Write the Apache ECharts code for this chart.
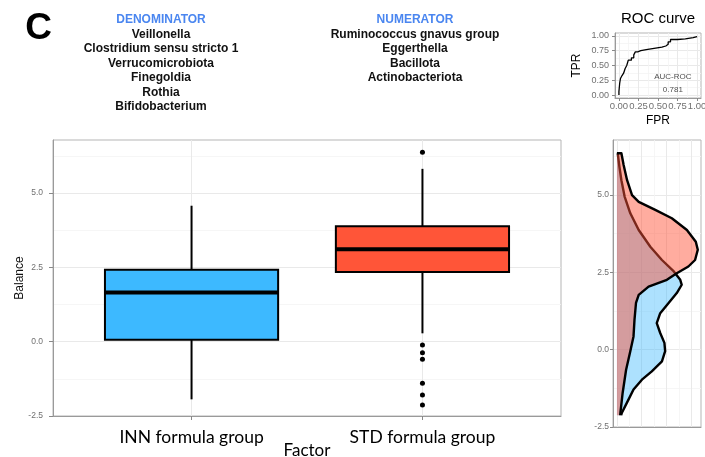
<!DOCTYPE html>
<html><head><meta charset="utf-8">
<script src="https://cdn.jsdelivr.net/npm/echarts@6/dist/echarts.min.js"></script>
<style>html,body{margin:0;padding:0;background:#fff}#c{width:705px;height:457px}</style>
</head><body><div id="c"></div>
<script>
// ---------------- data ----------------
const categories = ['INN formula group', 'STD formula group'];
// [min whisker, Q1, median, Q3, max whisker]
const innBox = [-1.94, 0.06, 1.65, 2.42, 4.57];
const stdBox = [0.28, 2.34, 3.11, 3.88, 5.81];
const stdOutliers = [6.37, -0.11, -0.37, -0.59, -1.40, -1.79, -2.13];
const balanceTicks = [-2.5, 0, 2.5, 5];
const balanceMinor = [-1.25, 1.25, 3.75, 6.25];

const denominatorTitle = 'DENOMINATOR';
const denominatorTaxa = ['Veillonella', 'Clostridium sensu stricto 1', 'Verrucomicrobiota', 'Finegoldia', 'Rothia', 'Bifidobacterium'];
const numeratorTitle = 'NUMERATOR';
const numeratorTaxa = ['Ruminococcus gnavus group', 'Eggerthella', 'Bacillota', 'Actinobacteriota'];

// density (Balance value, density) – INN group
const innDensBalance = [6.35, 6.29, 5.91, 5.48, 4.95, 4.41, 3.87, 3.33, 2.90, 2.53, 2.26, 2.10, 1.83, 1.51, 1.18, 0.86, 0.54, 0.22, -0.05, -0.38, -0.70, -0.97, -1.29, -1.72, -2.04, -2.12];
const innDensity     = [0.003, 0.004, 0.010, 0.018, 0.031, 0.054, 0.088, 0.135, 0.182, 0.230, 0.256, 0.262, 0.242, 0.209, 0.175, 0.161, 0.175, 0.192, 0.195, 0.182, 0.141, 0.101, 0.067, 0.040, 0.020, 0.017];
// density – STD group
const stdDensBalance = [6.35, 5.97, 5.48, 5.00, 4.78, 4.52, 4.25, 3.87, 3.49, 3.23, 2.90, 2.69, 2.47, 2.26, 2.04, 1.77, 1.51, 0.97, 0.43, -0.05, -0.65, -1.40, -2.04, -2.12];
const stdDensity     = [0.018, 0.027, 0.041, 0.061, 0.088, 0.155, 0.222, 0.283, 0.319, 0.327, 0.316, 0.289, 0.242, 0.202, 0.128, 0.088, 0.077, 0.071, 0.067, 0.054, 0.037, 0.023, 0.014, 0.013];
const densityMajor = [0, 0.1, 0.2, 0.3];
const densityMinor = [0.05, 0.15, 0.25];

// ROC curve
const rocFPR = [0, 0, 0.01, 0.01, 0.02, 0.02, 0.04, 0.04, 0.06, 0.06, 0.08, 0.08, 0.10, 0.10, 0.12, 0.12, 0.16, 0.16, 0.19, 0.19, 0.21, 0.21, 0.24, 0.24, 0.28, 0.28, 0.35, 0.35, 0.45, 0.45, 0.55, 0.55, 0.60, 0.60, 0.63, 0.63, 0.66, 0.66, 0.75, 0.75, 0.85, 0.85, 0.95, 0.95, 1.00, 1.00];
const rocTPR = [0, 0.06, 0.06, 0.20, 0.20, 0.28, 0.28, 0.33, 0.33, 0.37, 0.37, 0.45, 0.45, 0.50, 0.50, 0.59, 0.59, 0.63, 0.63, 0.68, 0.68, 0.73, 0.73, 0.75, 0.75, 0.77, 0.77, 0.79, 0.79, 0.81, 0.81, 0.83, 0.83, 0.86, 0.86, 0.90, 0.90, 0.94, 0.94, 0.95, 0.95, 0.97, 0.97, 0.99, 0.99, 1.00];
const rocTicks = [0, 0.25, 0.5, 0.75, 1];
const rocMinor = [0.125, 0.375, 0.625, 0.875];
const aucLabel = 'AUC-ROC';
const aucValue = '0.781';

// ---------------- styles ----------------
const BLUE = '#3DB9FF', RED = '#FF5538';
const GRID_MAJOR = '#e9e9e9', GRID_MINOR = '#f4f4f4';
const TICK_COLOR = '#707070';
const SANS = '"Liberation Sans", Arial, sans-serif';
const CAT_FONT = 'Lato, "Open Sans", sans-serif';

const chart = echarts.init(document.getElementById('c'));

function minorAxis(gridIndex, min, max, values, isX) {
  return {
    type: 'value', gridIndex, min, max, position: isX ? 'bottom' : 'left',
    axisLine: { show: false, onZero: false }, axisLabel: { show: false },
    axisTick: { show: false, customValues: values },
    splitLine: { show: true, lineStyle: { color: GRID_MINOR, width: 0.8 } }
  };
}

const boxData = [[1].concat(innBox), [2].concat(stdBox)];
const boxColors = [BLUE, RED];

function boxRender(params, api) {
  const x = api.value(0);
  const hw = 0.375;
  const mn = api.value(1), q1 = api.value(2), md = api.value(3), q3 = api.value(4), mx = api.value(5);
  const pTop = api.coord([x, mx]), pQ3 = api.coord([x, q3]), pQ1 = api.coord([x, q1]), pBot = api.coord([x, mn]);
  const pL = api.coord([x - hw, q3]), pR = api.coord([x + hw, q1]);
  const mL = api.coord([x - hw, md]), mR = api.coord([x + hw, md]);
  return {
    type: 'group', children: [
      { type: 'line', shape: { x1: pTop[0], y1: pTop[1], x2: pQ3[0], y2: pQ3[1] }, style: { stroke: '#000', lineWidth: 2 } },
      { type: 'line', shape: { x1: pQ1[0], y1: pQ1[1], x2: pBot[0], y2: pBot[1] }, style: { stroke: '#000', lineWidth: 2 } },
      { type: 'rect', shape: { x: pL[0], y: pL[1], width: pR[0] - pL[0], height: pR[1] - pL[1] }, style: { fill: boxColors[params.dataIndex], stroke: '#000', lineWidth: 2 } },
      { type: 'line', shape: { x1: mL[0], y1: mL[1], x2: mR[0], y2: mR[1] }, style: { stroke: '#000', lineWidth: 4 } }
    ]
  };
}

function densityRender(balance, dens, fill) {
  return function (params, api) {
    const n = balance.length;
    const curve = [];
    for (let i = 0; i < n; i++) curve.push(api.coord([dens[i], balance[i]]));
    const top0 = api.coord([0, balance[0]]);
    const bot0 = api.coord([0, balance[n - 1]]);
    const poly = [top0].concat(curve).concat([bot0]);
    return {
      type: 'group', children: [
        { type: 'polygon', shape: { points: poly }, style: { fill: fill, stroke: null } },
        { type: 'polyline', shape: { points: [top0].concat(curve) }, style: { fill: null, stroke: '#000', lineWidth: 2.4, lineJoin: 'round' } }
      ]
    };
  };
}

const graphics = [];
graphics.push({ type: 'text', x: 38.5, y: 29, style: { text: 'C', font: 'bold 37px ' + SANS, fill: '#000', align: 'center', verticalAlign: 'middle' } });
function textBlock(cx, title, items) {
  const y0 = 20, step = 14.5;
  graphics.push({ type: 'text', x: cx, y: y0, style: { text: title, font: 'bold 12px ' + SANS, fill: '#4A86F0', align: 'center', verticalAlign: 'middle' } });
  items.forEach((t, i) => graphics.push({ type: 'text', x: cx, y: y0 + step * (i + 1), style: { text: t, font: 'bold 12px ' + SANS, fill: '#111', align: 'center', verticalAlign: 'middle' } }));
}
textBlock(161, denominatorTitle, denominatorTaxa);
textBlock(415, numeratorTitle, numeratorTaxa);
graphics.push({ type: 'text', x: 658, y: 19, style: { text: 'ROC curve', font: '15px ' + SANS, fill: '#000', align: 'center', verticalAlign: 'middle' } });

const option = {
  backgroundColor: '#fff',
  animation: false,
  graphic: graphics,
  grid: [
    { left: 53, top: 140, width: 508, height: 276, show: true, borderColor: '#b5b5b5', borderWidth: 1, outerBoundsMode: 'none', containLabel: false },
    { left: 613, top: 140, width: 88, height: 287, show: true, borderColor: '#b5b5b5', borderWidth: 1, outerBoundsMode: 'none', containLabel: false },
    { left: 615, top: 33, width: 86, height: 65, show: true, borderColor: '#b5b5b5', borderWidth: 1, outerBoundsMode: 'none', containLabel: false }
  ],
  xAxis: [
    { // 0 main
      type: 'value', gridIndex: 0, min: 0.4, max: 2.6, position: 'bottom',
      axisLine: { onZero: false, lineStyle: { color: '#9a9a9a', width: 1 } },
      axisTick: { show: true, length: 4, customValues: [1, 2], lineStyle: { color: '#888' } },
      axisLabel: { customValues: [1, 2], formatter: v => categories[Math.round(v) - 1], fontSize: 17.5, fontFamily: CAT_FONT, color: '#000', margin: 12 },
      splitLine: { show: true, lineStyle: { color: GRID_MAJOR, width: 1 } },
      name: 'Factor', nameLocation: 'middle', nameGap: 26, nameMoveOverlap: false,
      nameTextStyle: { fontSize: 17, fontFamily: CAT_FONT, color: '#000' }
    },
    { // 1 density major
      type: 'value', gridIndex: 1, min: -0.016, max: 0.340, position: 'bottom',
      axisLine: { onZero: false, lineStyle: { color: '#9a9a9a', width: 1 } },
      axisTick: { show: false, customValues: densityMajor }, axisLabel: { show: false },
      splitLine: { show: true, lineStyle: { color: GRID_MAJOR, width: 1 } }
    },
    minorAxis(1, -0.016, 0.340, densityMinor, true), // 2
    { // 3 ROC
      type: 'value', gridIndex: 2, min: -0.05, max: 1.05, position: 'bottom',
      axisLine: { onZero: false, lineStyle: { color: '#9a9a9a', width: 1 } },
      axisTick: { show: true, length: 3, customValues: rocTicks, lineStyle: { color: '#888' } },
      axisLabel: { customValues: rocTicks, formatter: v => v.toFixed(2), fontSize: 9.5, fontFamily: SANS, color: TICK_COLOR, margin: 3 },
      splitLine: { show: true, lineStyle: { color: GRID_MAJOR, width: 1 } },
      name: 'FPR', nameLocation: 'middle', nameGap: 17, nameMoveOverlap: false,
      nameTextStyle: { fontSize: 12, fontFamily: SANS, color: '#000' }
    },
    minorAxis(2, -0.05, 1.05, rocMinor, true) // 4
  ],
  yAxis: [
    { // 0 main
      type: 'value', gridIndex: 0, min: -2.5, max: 6.78, position: 'left',
      axisLine: { show: true, onZero: false, lineStyle: { color: '#9a9a9a', width: 1 } },
      axisTick: { show: true, length: 4, customValues: balanceTicks, lineStyle: { color: '#888' } },
      axisLabel: { customValues: balanceTicks, formatter: v => v.toFixed(1), fontSize: 8.5, fontFamily: SANS, color: TICK_COLOR, margin: 10 },
      splitLine: { show: true, lineStyle: { color: GRID_MAJOR, width: 1 } },
      name: 'Balance', nameLocation: 'middle', nameGap: 27, nameRotate: 90, nameMoveOverlap: false,
      nameTextStyle: { fontSize: 12, fontFamily: SANS, color: '#111' }
    },
    minorAxis(0, -2.5, 6.78, balanceMinor, false), // 1
    { // 2 density
      type: 'value', gridIndex: 1, min: -2.5, max: 6.78, position: 'left',
      axisLine: { show: true, onZero: false, lineStyle: { color: '#9a9a9a', width: 1 } },
      axisTick: { show: true, length: 3, customValues: balanceTicks, lineStyle: { color: '#888' } },
      axisLabel: { customValues: balanceTicks, formatter: v => v.toFixed(1), fontSize: 8.5, fontFamily: SANS, color: TICK_COLOR, margin: 4 },
      splitLine: { show: true, lineStyle: { color: GRID_MAJOR, width: 1 } }
    },
    minorAxis(1, -2.5, 6.78, balanceMinor, false), // 3
    { // 4 ROC
      type: 'value', gridIndex: 2, min: -0.05, max: 1.05, position: 'left',
      axisLine: { show: true, onZero: false, lineStyle: { color: '#9a9a9a', width: 1 } },
      axisTick: { show: true, length: 3, customValues: rocTicks, lineStyle: { color: '#888' } },
      axisLabel: { customValues: rocTicks, formatter: v => v.toFixed(2), fontSize: 9, fontFamily: SANS, color: TICK_COLOR, margin: 6 },
      splitLine: { show: true, lineStyle: { color: GRID_MAJOR, width: 1 } },
      name: 'TPR', nameLocation: 'middle', nameGap: 32, nameRotate: 90, nameMoveOverlap: false,
      nameTextStyle: { fontSize: 12, fontFamily: SANS, color: '#000' }
    },
    minorAxis(2, -0.05, 1.05, rocMinor, false) // 5
  ],
  series: [
    { type: 'custom', name: 'box', xAxisIndex: 0, yAxisIndex: 0, silent: true, clip: false,
      data: boxData, renderItem: boxRender, z: 3 },
    { type: 'scatter', name: 'outliers', xAxisIndex: 0, yAxisIndex: 0, silent: true,
      data: stdOutliers.map(v => [2, v]), symbolSize: 5, itemStyle: { color: '#000', opacity: 1 }, z: 4 },
    { type: 'custom', name: 'INN density', xAxisIndex: 1, yAxisIndex: 2, silent: true, clip: false,
      data: [[0, 0]], renderItem: densityRender(innDensBalance, innDensity, 'rgba(59,184,252,0.42)'), z: 3 },
    { type: 'custom', name: 'STD density', xAxisIndex: 1, yAxisIndex: 2, silent: true, clip: false,
      data: [[0, 0]], renderItem: densityRender(stdDensBalance, stdDensity, 'rgba(255,82,54,0.48)'), z: 4 },
    { type: 'line', name: 'ROC', xAxisIndex: 3, yAxisIndex: 4, silent: true, showSymbol: false, symbol: 'none',
      data: rocFPR.map((f, i) => [f, rocTPR[i]]), lineStyle: { color: '#000', width: 1.3 }, z: 3 },
    { type: 'scatter', name: 'AUC', xAxisIndex: 3, yAxisIndex: 4, silent: true, symbolSize: 0,
      data: [[0.69, 0.2]],
      label: { show: true, position: 'inside', formatter: aucLabel + '\n' + aucValue, fontSize: 8, lineHeight: 12.5, fontFamily: SANS, color: '#222', align: 'center' }, z: 5 }
  ]
};
chart.setOption(option);
</script>
</body></html>
